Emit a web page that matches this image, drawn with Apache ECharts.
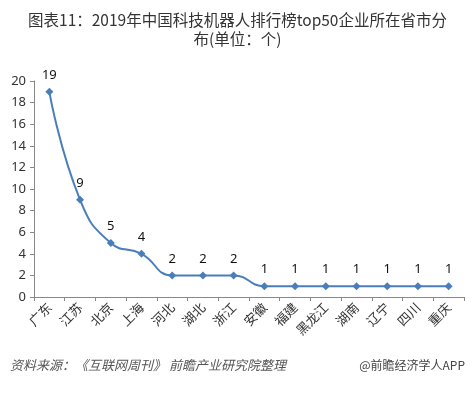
<!DOCTYPE html>
<html><head><meta charset="utf-8">
<script src="https://cdn.jsdelivr.net/npm/echarts@6/dist/echarts.min.js"></script>
<style>html,body{margin:0;padding:0;background:#fff}#c{width:475px;height:393px}</style>
</head><body><div id="c"></div>
<script>
const categories = ['广东','江苏','北京','上海','河北','湖北','浙江','安徽','福建','黑龙江','湖南','辽宁','四川','重庆'];
const values = [19,9,5,4,2,2,2,1,1,1,1,1,1,1];
const yTicks = {min:0,max:20,interval:2};
const titleText = '图表11：2019年中国科技机器人排行榜top50企业所在省市分\n布(单位：个)';
const sourceText = '资料来源：《互联网周刊》 前瞻产业研究院整理';
const brandText = '@前瞻经济学人APP';

const chart = echarts.init(document.getElementById('c'));
chart.setOption({
  backgroundColor:'#fff',
  animation:false,
  title:{text:titleText,left:'center',top:6,textStyle:{fontFamily:'Noto Sans CJK SC',fontSize:15.5,fontWeight:'normal',color:'#333',lineHeight:19}},
  graphic:[
    {type:'text',left:10,top:359,style:{text:sourceText,font:'italic 13px "Noto Sans CJK SC"',fill:'#555'}},
    {type:'text',right:10,top:359,style:{text:brandText,font:'12px "Noto Sans CJK SC"',fill:'#444'}}
  ],
  grid:{left:34,right:11,top:81,bottom:96},
  xAxis:{type:'category',data:categories,boundaryGap:true,
    axisLine:{lineStyle:{color:'#888'}},
    axisTick:{show:true,length:4,lineStyle:{color:'#888'}},
    axisLabel:{rotate:45,interval:0,fontFamily:'Noto Sans CJK SC',fontSize:13,color:'#333',margin:8}},
  yAxis:{type:'value',min:yTicks.min,max:yTicks.max,interval:yTicks.interval,
    axisLine:{show:true,lineStyle:{color:'#888'}},
    axisTick:{show:true,length:4,lineStyle:{color:'#888'}},
    splitLine:{show:false},
    axisLabel:{fontFamily:'Noto Sans',fontSize:13,color:'#333',margin:8}},
  series:[{type:'line',data:values,smooth:0.5,symbol:'diamond',symbolSize:8,
    lineStyle:{color:'#4a7ebb',width:2},itemStyle:{color:'#4a7ebb'},
    label:{show:true,position:'top',distance:6,fontFamily:'Noto Sans',fontSize:13,color:'#111'}}]
});
</script></body></html>
